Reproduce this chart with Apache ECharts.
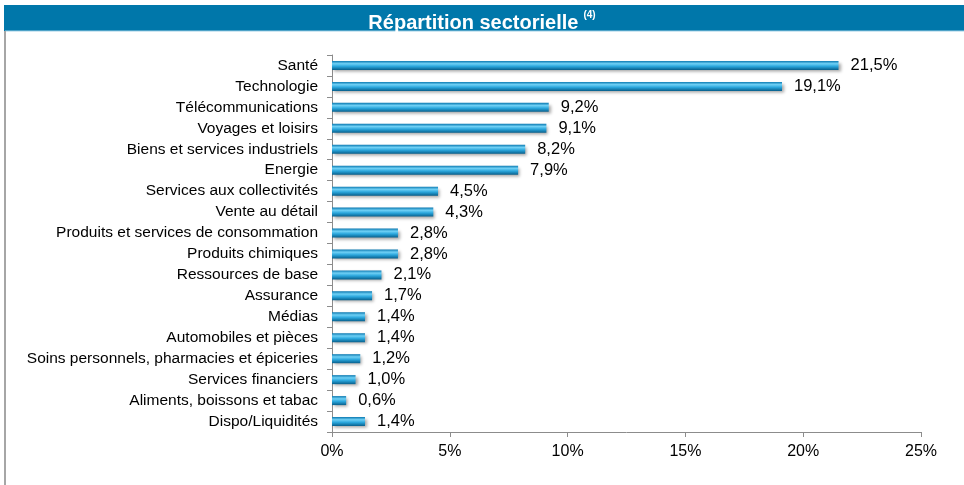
<!DOCTYPE html>
<html>
<head>
<meta charset="utf-8">
<script src="https://cdn.jsdelivr.net/npm/echarts@6/dist/echarts.min.js"></script>
<style>
  html, body { margin: 0; padding: 0; background: #fff; }
  #chart { width: 964px; height: 485px; }
</style>
</head>
<body>
<div id="chart"></div>
<script>
  // secteurs, du haut vers le bas
  var sectors = [
    'Santé', 'Technologie', 'Télécommunications', 'Voyages et loisirs',
    'Biens et services industriels', 'Energie', 'Services aux collectivités',
    'Vente au détail', 'Produits et services de consommation', 'Produits chimiques',
    'Ressources de base', 'Assurance', 'Médias', 'Automobiles et pièces',
    'Soins personnels, pharmacies et épiceries', 'Services financiers',
    'Aliments, boissons et tabac', 'Dispo/Liquidités'
  ];
  var weights = [21.5, 19.1, 9.2, 9.1, 8.2, 7.9, 4.5, 4.3, 2.8, 2.8, 2.1, 1.7, 1.4, 1.4, 1.2, 1.0, 0.6, 1.4];
  var xTicks = [0, 5, 10, 15, 20, 25];

  var chart = echarts.init(document.getElementById('chart'));
  var font = 'Liberation Sans, Arial, sans-serif';

  var option = {
    animation: false,
    textStyle: { fontFamily: font },
    graphic: [
      { type: 'rect', shape: { x: 4, y: 5, width: 960, height: 26 }, style: { fill: '#0077aa' } },
      { type: 'line', shape: { x1: 5, y1: 31, x2: 964, y2: 31 }, style: { stroke: '#9fd0e6', lineWidth: 1 } },
      { type: 'line', shape: { x1: 5, y1: 31, x2: 5, y2: 485 }, style: { stroke: '#a6a6a6', lineWidth: 2 } }
    ],
    title: {
      text: '{t|Répartition sectorielle} {s|(4)}',
      left: 'center',
      top: 5,
      textStyle: {
        rich: {
          t: { color: '#fff', fontSize: 20, fontWeight: 'bold', fontFamily: font, lineHeight: 26 },
          s: { color: '#fff', fontSize: 10, fontWeight: 'bold', fontFamily: font, verticalAlign: 'top', lineHeight: 18 }
        }
      }
    },
    grid: { left: 332, right: 43, top: 55, bottom: 53 },
    xAxis: {
      type: 'value',
      min: xTicks[0],
      max: xTicks[xTicks.length - 1],
      interval: 5,
      splitLine: { show: false },
      axisLine: { show: true, lineStyle: { color: '#8c8c8c' } },
      axisTick: { show: true, length: 5, lineStyle: { color: '#8c8c8c' } },
      axisLabel: { color: '#000', fontSize: 16, margin: 12, formatter: '{value}%' }
    },
    yAxis: {
      type: 'category',
      inverse: true,
      data: sectors,
      axisLine: { show: true, lineStyle: { color: '#8c8c8c' } },
      axisTick: { show: true, length: 5, lineStyle: { color: '#8c8c8c' } },
      axisLabel: { color: '#000', fontSize: 15.5, margin: 14 }
    },
    series: [{
      type: 'bar',
      data: weights,
      barWidth: 9,
      itemStyle: {
        color: new echarts.graphic.LinearGradient(0, 0, 0, 1, [
          { offset: 0, color: '#0a78b0' },
          { offset: 0.3, color: '#6fd0f5' },
          { offset: 0.6, color: '#2aa6dc' },
          { offset: 1, color: '#075f8c' }
        ]),
        shadowColor: 'rgba(0,0,0,0.35)',
        shadowBlur: 3,
        shadowOffsetX: 2,
        shadowOffsetY: 2
      },
      label: {
        show: true,
        position: 'right',
        distance: 12,
        color: '#000',
        fontSize: 16.5,
        formatter: function (p) { return p.value.toFixed(1).replace('.', ',') + '%'; }
      }
    }]
  };

  chart.setOption(option);
</script>
</body>
</html>
